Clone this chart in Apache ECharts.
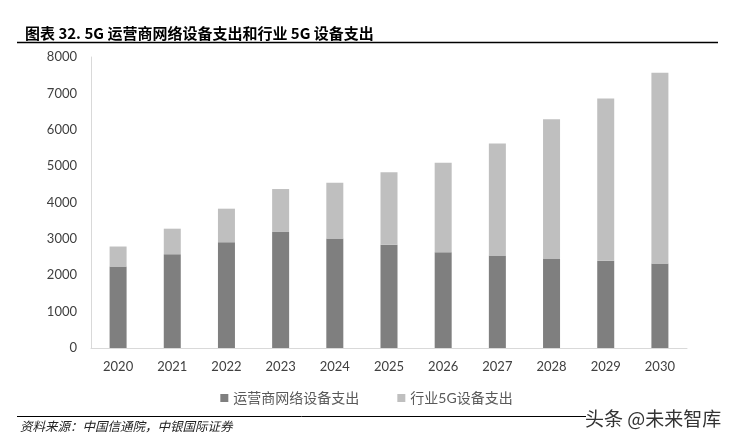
<!DOCTYPE html>
<html><head><meta charset="utf-8">
<script src="https://cdn.jsdelivr.net/npm/echarts@6/dist/echarts.min.js"></script>
<style>html,body{margin:0;padding:0;background:#fff}#c{width:733px;height:444px}</style>
</head><body><div id="c"></div>
<script>
var categories = ['2020','2021','2022','2023','2024','2025','2026','2027','2028','2029','2030'];
var operatorSpend = [2240,2580,2910,3190,3010,2840,2630,2540,2460,2400,2320];
var industrySpend = [550,700,920,1180,1530,1990,2460,3080,3830,4460,5250];
var yTicks = [0,1000,2000,3000,4000,5000,6000,7000,8000];
var seriesNames = ['运营商网络设备支出','行业5G设备支出'];

var chart = echarts.init(document.getElementById('c'));
var font = 'Lato, "Noto Sans CJK SC", sans-serif';
chart.setOption({
  animation:false,
  backgroundColor:'#fff',
  title:{text:'图表 32. 5G 运营商网络设备支出和行业 5G 设备支出',left:20,top:21,
    textStyle:{fontSize:15,fontWeight:'bold',color:'#000',fontFamily:'"Noto Sans CJK SC", sans-serif'}},
  graphic:[
    {type:'line',shape:{x1:17,y1:42.5,x2:718,y2:42.5},style:{stroke:'#000',lineWidth:1.5}},
    {type:'line',shape:{x1:17,y1:416.5,x2:586,y2:416.5},style:{stroke:'#000',lineWidth:1}},
    {type:'text',left:20,top:420,style:{text:'资料来源：中国信通院，中银国际证券',fontSize:12.5,fontStyle:'italic',fill:'#222',fontFamily:'"Noto Sans CJK SC", sans-serif'}},
    {type:'text',left:585,top:409,style:{text:'头条 @未来智库',fontSize:19,fill:'#333',fontFamily:'"Noto Sans CJK SC", sans-serif'}}
  ],
  legend:{bottom:34,left:'center',itemWidth:8,itemHeight:8,itemGap:38,icon:'rect',
    textStyle:{fontSize:14,color:'#595959',fontFamily:font},
    data:seriesNames},
  grid:{left:91,right:46,top:57,bottom:96},
  xAxis:{type:'category',data:categories,
    axisLine:{lineStyle:{color:'#d9d9d9',width:1}},axisTick:{show:false},
    axisLabel:{fontSize:13,color:'#404040',margin:12,fontFamily:font}},
  yAxis:{type:'value',min:yTicks[0],max:yTicks[yTicks.length-1],interval:1000,
    axisLine:{show:true,lineStyle:{color:'#d9d9d9',width:1}},axisTick:{show:false},
    splitLine:{show:false},
    axisLabel:{fontSize:13,color:'#404040',margin:14,fontFamily:font,formatter:function(v){return String(v);}}},
  series:[
    {name:seriesNames[0],type:'bar',stack:'a',data:operatorSpend,barWidth:17,itemStyle:{color:'#7f7f7f'}},
    {name:seriesNames[1],type:'bar',stack:'a',data:industrySpend,barWidth:17,itemStyle:{color:'#bfbfbf'}}
  ]
});
</script></body></html>
